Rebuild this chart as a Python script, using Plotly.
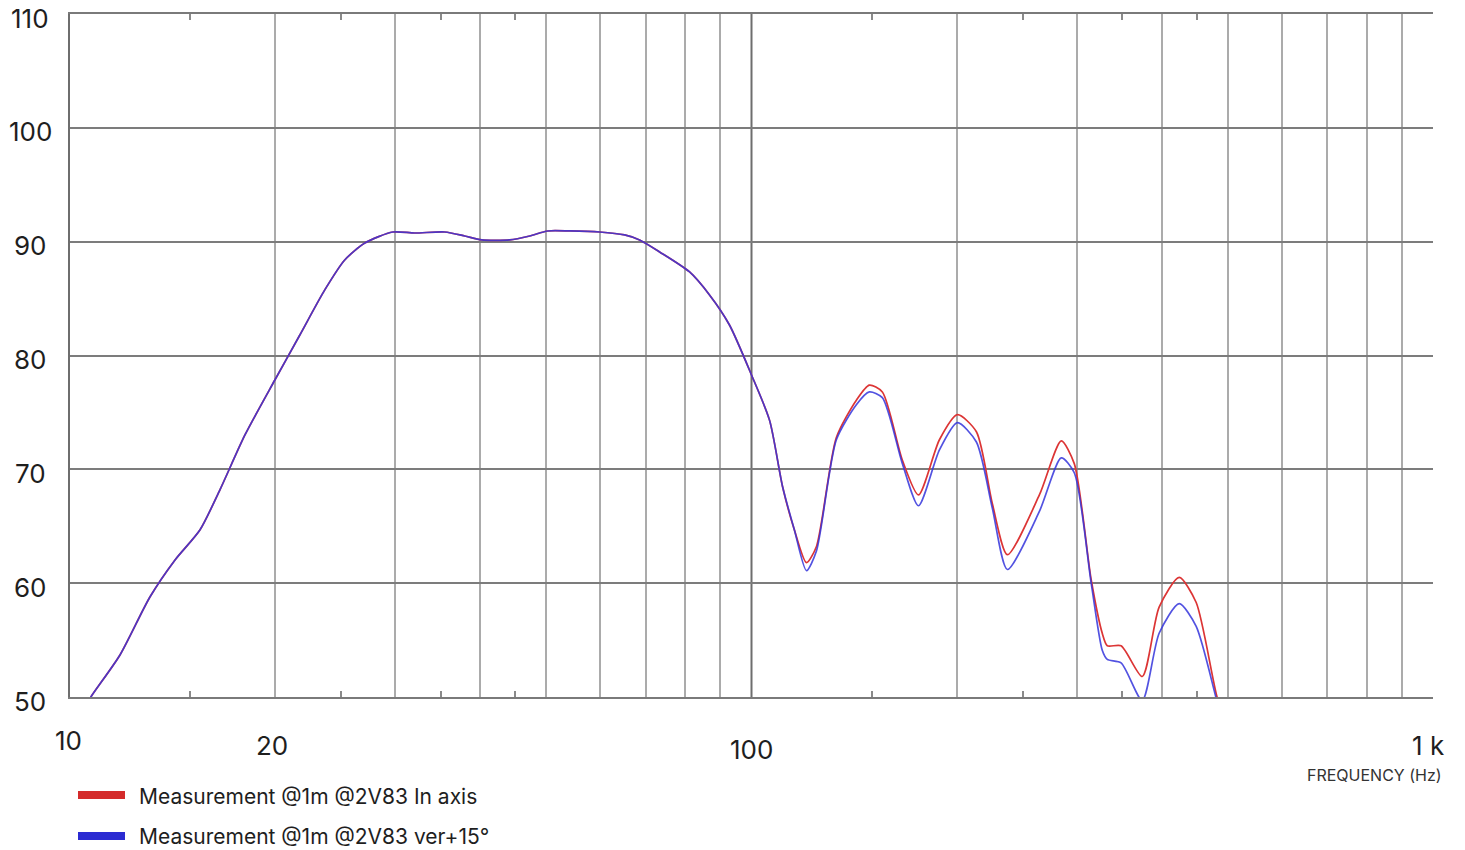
import math
import plotly.graph_objects as go

# ---------------- data ----------------
freq_hz = [10.5, 10.73, 11.84, 13.10, 14.26, 15.51, 16.59, 18.06, 19.98, 21.74, 23.65,
           25.3, 27.08, 29.76, 32.05, 35.46, 37.95, 40.19, 44.18, 47.27, 50.22, 54.10,
           59.85, 65.14, 68.52, 73.31, 81.13, 86.78, 92.83, 100.0, 106.3, 111.1, 115.6,
           120.4, 124.5, 133.2, 142.6, 148.9, 155.6, 166.5, 175.8, 188.7, 200.5, 213.8,
           225.6, 237.4, 264.5, 284.8, 297.6, 315.1, 327.1, 332.7, 348.6, 374.4, 396.4,
           424.2, 449.3, 482.1, 502.0]

spl_in_axis = [49.0, 50.0, 53.69, 58.78, 62.04, 64.67, 68.18, 73.02, 77.85, 81.80, 85.76,
               88.39, 89.88, 90.85, 90.76, 90.85, 90.50, 90.15, 90.15, 90.50, 90.94, 90.94,
               90.85, 90.59, 90.15, 89.10, 87.34, 85.32, 82.68, 78.29, 74.30, 68.45, 64.67,
               61.8, 63.2, 72.8, 76.1, 77.4, 76.8, 70.8, 67.75, 72.6, 74.8, 73.3,
               67.0, 62.5, 67.75, 72.5, 70.5, 60.3, 55.6, 54.5, 54.5, 51.8, 57.9,
               60.5, 58.3, 50.0, 47.0]

spl_ver15 = [49.0, 50.0, 53.69, 58.78, 62.04, 64.67, 68.18, 73.02, 77.85, 81.80, 85.76,
             88.39, 89.88, 90.85, 90.76, 90.85, 90.50, 90.15, 90.15, 90.50, 90.94, 90.94,
             90.85, 90.59, 90.15, 89.10, 87.34, 85.32, 82.68, 78.29, 74.30, 68.45, 64.67,
             61.1, 62.8, 72.6, 75.7, 76.8, 76.3, 70.5, 66.8, 71.7, 74.1, 72.4,
             66.6, 61.2, 66.3, 71.0, 69.7, 60.0, 54.1, 53.3, 53.0, 49.7, 55.6,
             58.2, 56.2, 49.6, 46.0]

series_names = ["Measurement @1m @2V83 In axis", "Measurement @1m @2V83 ver+15°"]
series_colors = ["#dc3535", "#3535dc"]
legend_colors = ["#d42b2b", "#2b2bd2"]

x_minor_ticks = [15, 25, 35, 45, 150, 250, 350, 450]
x_grid_vals = [20, 30, 40, 50, 60, 70, 80, 90, 200, 300, 400, 500, 600, 700, 800, 900]
decade_lines = [100]
x_label_vals = [10, 20, 100, 1000]
x_label_text = ["10", "20", "100", "1 k"]
y_tick_vals = [50, 60, 70, 80, 90, 100, 110]
y_tick_text = ["50", "60", "70", "80", "90", "100", "110"]
x_axis_title = "FREQUENCY (Hz)"

# ---------------- figure ----------------
FONT = "Inter, Roboto, 'Noto Sans', sans-serif"
TXT = "#1e1e1e"

fig = go.Figure()
fig.add_trace(go.Scatter(x=freq_hz, y=spl_in_axis, mode="lines", name=series_names[0],
                         line=dict(color=series_colors[0], width=1.7, shape="spline", smoothing=0.7),
                         showlegend=False))
fig.add_trace(go.Scatter(x=freq_hz, y=spl_ver15, mode="lines", name=series_names[1],
                         line=dict(color=series_colors[1], width=1.7, shape="spline", smoothing=0.7),
                         opacity=0.85, showlegend=False))

W, H = 1465, 850
ml, mr, mt, mb = 70, 32, 14, 153
pw, ph = W - ml - mr, H - mt - mb

def px_x(p):  # pixel x -> paper
    return (p - ml) / pw

def px_y(p):  # pixel y -> paper
    return (H - mb - p) / ph

shapes = []
for d in decade_lines:
    shapes.append(dict(type="line", xref="x", yref="paper", x0=d, x1=d, y0=0, y1=1,
                       line=dict(color="#6e6e6e", width=2), layer="between"))

# custom legend swatches
leg_y = [795, 836]
for i in range(2):
    shapes.append(dict(type="line", xref="paper", yref="paper",
                       x0=px_x(78), x1=px_x(125), y0=px_y(leg_y[i]), y1=px_y(leg_y[i]),
                       line=dict(color=legend_colors[i], width=8)))

annotations = []
x_shift = [-2, -3, 0, -5]
y_shift = [-43, -48, -52, -48]
for v, t, xs, ys in zip(x_label_vals, x_label_text, x_shift, y_shift):
    annotations.append(dict(x=math.log10(v), xref="x", y=0, yref="paper", text=t, showarrow=False,
                            xanchor="center", yanchor="middle", xshift=xs, yshift=ys,
                            font=dict(family=FONT, size=26, color=TXT)))
for v, t in zip(y_tick_vals, y_tick_text):
    annotations.append(dict(x=px_x(30), xref="paper", y=v, yref="y", text=t, showarrow=False,
                            xanchor="center", yanchor="middle", yshift=-4,
                            font=dict(family=FONT, size=26, color=TXT)))
annotations.append(dict(x=px_x(1444), xref="paper", y=px_y(775), yref="paper", text=x_axis_title,
                        showarrow=False, xanchor="right", yanchor="middle",
                        font=dict(family=FONT, size=16, color="#333333")))
for i in range(2):
    annotations.append(dict(x=px_x(137), xref="paper", y=px_y(leg_y[i] + 1), yref="paper",
                            text=series_names[i], showarrow=False, xanchor="left", yanchor="middle",
                            font=dict(family=FONT, size=21, color=TXT)))

fig.update_layout(
    width=W, height=H,
    margin=dict(l=ml, r=mr, t=mt, b=mb, pad=0),
    paper_bgcolor="white", plot_bgcolor="white",
    shapes=shapes, annotations=annotations,
    showlegend=False,
    xaxis=dict(type="log", range=[1, 3], tickmode="array", tickvals=x_minor_ticks,
               ticks="inside", ticklen=6, tickwidth=2, tickcolor="#8a8a8a",
               showticklabels=False, showgrid=False, zeroline=False,
               showline=True, linecolor="#7a7a7a", linewidth=2, mirror="ticks",
               minor=dict(tickmode="array", tickvals=x_grid_vals, showgrid=True,
                          gridcolor="#ababab", gridwidth=2, ticks="")),
    yaxis=dict(range=[50, 110], tickmode="array", tickvals=y_tick_vals,
               showticklabels=False, ticks="", showgrid=True, gridcolor="#7c7c7c", gridwidth=2,
               zeroline=False, showline=True, linecolor="#6e6e6e", linewidth=2),
)

fig.write_html("out.html", config={"displayModeBar": False},
               post_script="document.body.style.margin='0';document.body.style.overflow='hidden';")
